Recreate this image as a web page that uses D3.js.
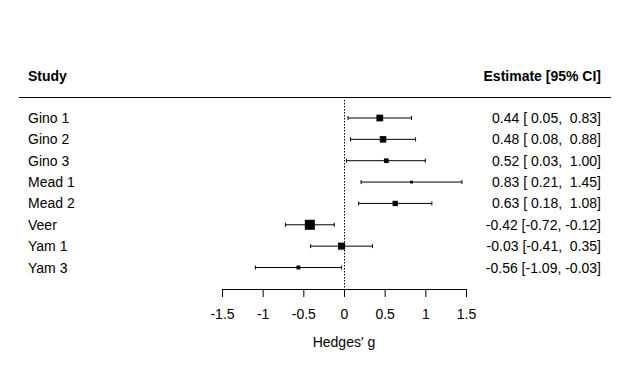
<!DOCTYPE html>
<html>
<head>
<meta charset="utf-8">
<script src="https://cdn.jsdelivr.net/npm/d3@7"></script>
<style>
  body { margin: 0; background: #fff; }
  text { font-family: "Liberation Sans", Arial, sans-serif; font-size: 14px; fill: #000; }
</style>
</head>
<body>
<div id="forest"></div>
<script>
// Study data (Hedges' g with 95% CI)
const studies = ["Gino 1", "Gino 2", "Gino 3", "Mead 1", "Mead 2", "Veer", "Yam 1", "Yam 3"];
const estimates = [0.44, 0.48, 0.52, 0.83, 0.63, -0.42, -0.03, -0.56];
const lower = [0.05, 0.08, 0.03, 0.21, 0.18, -0.72, -0.41, -1.09];
const upper = [0.83, 0.88, 1.00, 1.45, 1.08, -0.12, 0.35, -0.03];
const weights = [25.2, 24.0, 16.3, 10.0, 19.0, 42.7, 26.6, 13.7];
const xTicks = [-1.5, -1, -0.5, 0, 0.5, 1, 1.5];

const width = 630, height = 379;

const svg = d3.select("#forest")
    .append("svg")
    .attr("width", width)
    .attr("height", height);

const x = d3.scaleLinear()
    .domain([-1.5, 1.5])
    .range([222, 466]);

const y = d3.scalePoint()
    .domain(studies)
    .range([118, 267.5]);

const sizeScale = d3.scaleLinear()
    .domain(d3.extent(weights, w => Math.sqrt(w)))
    .range([2.8, 10]);

const fmt = v => (v < 0 ? "" : " ") + v.toFixed(2);
const data = studies.map((s, i) => ({
    study: s, est: estimates[i], lb: lower[i], ub: upper[i], w: weights[i]
}));

// header
svg.append("text")
    .attr("x", 28)
    .attr("y", 81)
    .style("font-weight", "bold")
    .text("Study");

svg.append("text")
    .attr("x", 601)
    .attr("y", 81)
    .style("font-weight", "bold")
    .style("text-anchor", "end")
    .text("Estimate [95% CI]");

svg.append("line")
    .attr("x1", 19).attr("x2", 611)
    .attr("y1", 97.5).attr("y2", 97.5)
    .style("stroke", "#000")
    .style("stroke-width", 1);

// reference line at zero
svg.append("line")
    .attr("x1", x(0) + 0.5).attr("x2", x(0) + 0.5)
    .attr("y1", 100).attr("y2", 289)
    .style("stroke", "#000")
    .style("stroke-width", 1)
    .style("stroke-dasharray", "1.5,1.5");

// rows
const row = svg.selectAll(".row")
    .data(data)
    .enter()
    .append("g")
    .attr("class", "row");

row.append("text")
    .attr("x", 28)
    .attr("y", d => y(d.study))
    .attr("dy", "0.36em")
    .text(d => d.study);

row.append("text")
    .attr("x", 601)
    .attr("y", d => y(d.study))
    .attr("dy", "0.36em")
    .attr("xml:space", "preserve")
    .style("white-space", "pre")
    .style("text-anchor", "end")
    .text(d => `${d.est.toFixed(2)} [${fmt(d.lb)}, ${fmt(d.ub)}]`);

row.append("line")
    .attr("x1", d => x(d.lb))
    .attr("x2", d => x(d.ub))
    .attr("y1", d => y(d.study))
    .attr("y2", d => y(d.study))
    .style("stroke", "#000");

row.append("line")
    .attr("x1", d => x(d.lb)).attr("x2", d => x(d.lb))
    .attr("y1", d => y(d.study) - 2).attr("y2", d => y(d.study) + 2)
    .style("stroke", "#000");

row.append("line")
    .attr("x1", d => x(d.ub)).attr("x2", d => x(d.ub))
    .attr("y1", d => y(d.study) - 2).attr("y2", d => y(d.study) + 2)
    .style("stroke", "#000");

row.append("rect")
    .attr("x", d => x(d.est) - sizeScale(Math.sqrt(d.w)) / 2)
    .attr("y", d => y(d.study) - sizeScale(Math.sqrt(d.w)) / 2)
    .attr("width", d => sizeScale(Math.sqrt(d.w)))
    .attr("height", d => sizeScale(Math.sqrt(d.w)))
    .style("fill", "#000");

// x axis
const axis = svg.append("g")
    .attr("transform", "translate(0,289)")
    .call(d3.axisBottom(x).tickValues(xTicks).tickSize(8).tickSizeOuter(0).tickFormat(d => String(d)).tickPadding(12));

axis.select(".domain").style("stroke", "#000");
axis.selectAll(".tick line").style("stroke", "#000");
axis.selectAll(".tick text")
    .style("font-family", "Liberation Sans, Arial, sans-serif")
    .style("font-size", "14px");

svg.append("text")
    .attr("x", x(0))
    .attr("y", 347)
    .style("text-anchor", "middle")
    .text("Hedges' g");
</script>
</body>
</html>
